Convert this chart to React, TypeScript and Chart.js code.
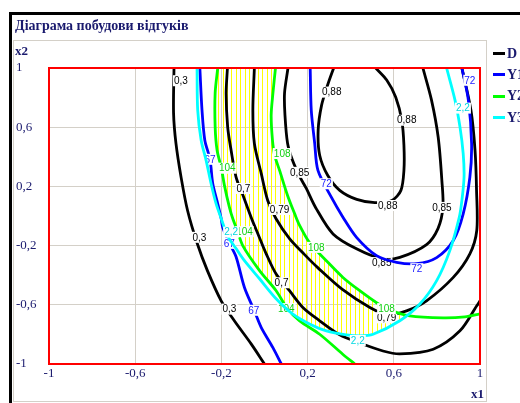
import React, { useEffect, useRef } from "react";
import { Chart, registerables } from "chart.js";

Chart.register(...registerables);

type Pt = [number, number];
type Lbl = [number, number, number];

const TITLE = "Діаграма побудови відгуків";
const X_AXIS_NAME = "x1";
const Y_AXIS_NAME = "x2";
const SERIES_NAMES = ["D", "Y1", "Y2", "Y3"];
const SERIES_COLORS = ["#000000", "#0000ff", "#00ff00", "#00ffff"];
const LABEL_COLORS = ["#000000", "#2020ff", "#10d010", "#00d8e0"];
const AXIS_MIN = -1;
const AXIS_MAX = 1;
const AXIS_STEP = 0.4;

// ---- D contours (x1, x2) ----
const D_030: Pt[] = [[-0.42, 1.0], [-0.422, 0.695], [-0.411, 0.492], [-0.387, 0.261], [-0.357, 0.037], [-0.312, -0.186], [-0.265, -0.369], [-0.201, -0.573], [-0.14, -0.708], [-0.062, -0.864], [0.0, -1.0]];
const D_070: Pt[] = [[-0.172, 1.0], [-0.178, 0.828], [-0.171, 0.602], [-0.155, 0.444], [-0.132, 0.263], [-0.1, 0.14], [-0.06, -0.017], [-0.028, -0.13], [0.008, -0.256], [0.054, -0.392], [0.116, -0.505], [0.178, -0.618], [0.256, -0.708], [0.349, -0.803], [0.442, -0.858], [0.55, -0.912], [0.628, -0.932], [0.783, -0.9], [0.907, -0.776], [0.985, -0.607], [1.0, -0.573]];
const D_079: Pt[] = [[-0.047, 1.0], [-0.054, 0.715], [-0.047, 0.49], [-0.015, 0.286], [0.015, 0.105], [0.053, -0.017], [0.116, -0.153], [0.186, -0.261], [0.247, -0.349], [0.363, -0.498], [0.489, -0.618], [0.572, -0.668], [0.659, -0.641], [0.752, -0.573], [0.876, -0.415], [0.953, -0.256], [0.985, -0.098], [0.984, 0.173], [0.977, 0.444], [0.958, 0.715], [0.916, 1.0]];
const D_085: Pt[] = [[0.109, 1.0], [0.093, 0.831], [0.095, 0.681], [0.107, 0.492], [0.13, 0.376], [0.163, 0.268], [0.194, 0.186], [0.237, 0.058], [0.318, -0.121], [0.427, -0.222], [0.543, -0.288], [0.628, -0.279], [0.752, -0.193], [0.805, -0.085], [0.828, 0.058], [0.823, 0.241], [0.806, 0.532], [0.775, 0.783], [0.735, 1.0]];
const D_088: Pt[] = [[0.321, 1.0], [0.293, 0.885], [0.265, 0.749], [0.249, 0.58], [0.256, 0.41], [0.293, 0.275], [0.349, 0.173], [0.428, 0.112], [0.512, 0.09], [0.591, 0.105], [0.633, 0.173], [0.647, 0.308], [0.647, 0.478], [0.637, 0.647], [0.609, 0.803], [0.567, 0.919], [0.516, 1.0]];

// ---- Y1 contours ----
const Y1_67: Pt[] = [[-0.3, 1.0], [-0.29, 0.715], [-0.277, 0.512], [-0.253, 0.383], [-0.24, 0.218], [-0.217, 0.083], [-0.201, -0.017], [-0.194, -0.076], [-0.163, -0.183], [-0.132, -0.275], [-0.093, -0.483], [-0.047, -0.641], [-0.015, -0.754], [0.039, -0.889], [0.078, -1.0]];
const Y1_72: Pt[] = [[0.212, 1.0], [0.217, 0.715], [0.233, 0.49], [0.248, 0.308], [0.31, 0.127], [0.364, -0.008], [0.427, -0.144], [0.52, -0.268], [0.613, -0.313], [0.706, -0.322], [0.799, -0.281], [0.876, -0.166], [0.922, 0.015], [0.953, 0.263], [0.961, 0.49], [0.946, 0.783], [0.916, 1.0]];

// ---- Y2 contours ----
const Y2_104: Pt[] = [[-0.217, 1.0], [-0.229, 0.831], [-0.229, 0.602], [-0.22, 0.444], [-0.2, 0.322], [-0.186, 0.207], [-0.163, 0.06], [-0.147, -0.019], [-0.126, -0.098], [-0.101, -0.2], [-0.023, -0.369], [0.054, -0.505], [0.107, -0.627], [0.163, -0.708], [0.256, -0.799], [0.363, -0.934], [0.419, -1.0]];
const Y2_108: Pt[] = [[0.051, 1.0], [0.039, 0.828], [0.031, 0.681], [0.037, 0.512], [0.047, 0.41], [0.07, 0.308], [0.107, 0.139], [0.14, 0.015], [0.163, -0.064], [0.209, -0.18], [0.287, -0.302], [0.364, -0.415], [0.442, -0.505], [0.52, -0.586], [0.581, -0.634], [0.674, -0.675], [0.829, -0.688], [0.93, -0.681], [1.0, -0.661]];

// ---- Y3 contour ----
const Y3_22: Pt[] = [[-0.313, 1.0], [-0.31, 0.715], [-0.294, 0.512], [-0.271, 0.376], [-0.248, 0.22], [-0.225, 0.085], [-0.201, -0.017], [-0.172, -0.132], [-0.132, -0.22], [-0.093, -0.302], [-0.023, -0.424], [0.054, -0.559], [0.13, -0.661], [0.209, -0.729], [0.287, -0.776], [0.38, -0.803], [0.442, -0.81], [0.504, -0.799], [0.628, -0.708], [0.721, -0.595], [0.799, -0.437], [0.86, -0.234], [0.904, -0.008], [0.916, 0.105], [0.926, 0.263], [0.922, 0.422], [0.907, 0.602], [0.884, 0.783], [0.845, 1.0]];

// ---- contour labels: x1, x2, level ----
const D_LABELS: Lbl[] = [[-0.388, 0.914, 0.3], [-0.302, -0.144, 0.3], [-0.163, -0.629, 0.3], [-0.098, 0.186, 0.7], [0.079, -0.451, 0.7], [0.07, 0.044, 0.79], [0.567, -0.688, 0.79], [0.163, 0.295, 0.85], [0.544, -0.315, 0.85], [0.823, 0.058, 0.85], [0.312, 0.837, 0.88], [0.66, 0.647, 0.88], [0.572, 0.071, 0.88]];
const Y1_LABELS: Lbl[] = [[-0.253, 0.383, 67], [-0.163, -0.185, 67], [-0.05, -0.637, 67], [0.287, 0.218, 72], [0.707, -0.356, 72], [0.953, 0.917, 72]];
const Y2_LABELS: Lbl[] = [[-0.173, 0.323, 104], [-0.093, -0.106, 104], [0.101, -0.626, 104], [0.082, 0.422, 108], [0.24, -0.212, 108], [0.566, -0.626, 108]];
const Y3_LABELS: Lbl[] = [[-0.155, -0.109, 2.2], [0.433, -0.841, 2.2], [0.921, 0.729, 2.2]];

const CONTOURS: { series: number; pts: Pt[] }[] = [
  { series: 0, pts: D_030 },
  { series: 0, pts: D_070 },
  { series: 0, pts: D_079 },
  { series: 0, pts: D_085 },
  { series: 0, pts: D_088 },
  { series: 1, pts: Y1_67 },
  { series: 1, pts: Y1_72 },
  { series: 2, pts: Y2_104 },
  { series: 2, pts: Y2_108 },
  { series: 3, pts: Y3_22 },
];
const SERIES_LABELS: Lbl[][] = [D_LABELS, Y1_LABELS, Y2_LABELS, Y3_LABELS];

const NAVY = "#1a1a6e";
const SERIF = "'Liberation Serif', 'Times New Roman', serif";
const fmt = (v: number) => String(Math.round(v * 100) / 100).replace(".", ",");

export default function App() {
  const ref = useRef<HTMLCanvasElement | null>(null);

  useEffect(() => {
    const canvas = ref.current;
    if (!canvas) return;
    const n = CONTOURS.length;
    const lastOfSeries: Record<number, number> = {};
    CONTOURS.forEach((c, i) => (lastOfSeries[c.series] = i));

    const datasets: any[] = CONTOURS.map((c, i) => ({
      label: SERIES_NAMES[c.series],
      data: c.pts.map(([x, y]) => ({ x, y })),
      showLine: true,
      borderColor: SERIES_COLORS[c.series],
      backgroundColor: SERIES_COLORS[c.series],
      borderWidth: 2.8,
      pointRadius: 0,
      tension: 0.3,
      fill: false,
      order: n - i,
      contourLabels: lastOfSeries[c.series] === i ? SERIES_LABELS[c.series] : [],
      labelColor: LABEL_COLORS[c.series],
    }));

    const polyPath = (ctx: CanvasRenderingContext2D, chart: any, pts: Pt[]) => {
      const xs = chart.scales.x, ys = chart.scales.y;
      ctx.beginPath();
      pts.forEach(([a, b], i) => {
        const X = xs.getPixelForValue(a), Y = ys.getPixelForValue(b);
        if (i) ctx.lineTo(X, Y); else ctx.moveTo(X, Y);
      });
      ctx.closePath();
    };

    const hatchPlugin = {
      id: "hatch",
      beforeDatasetsDraw(chart: any) {
        const { ctx, chartArea: a } = chart;
        ctx.save();
        ctx.beginPath();
        ctx.rect(a.left, a.top, a.right - a.left, a.bottom - a.top);
        ctx.clip();
        const g1 = Y2_104, g2 = Y2_108, c = Y3_22;
        polyPath(ctx, chart, [[g1[0][0], 1.3], ...g1, [g1[g1.length - 1][0], -1.3], [1.3, -1.3], [1.3, 1.3]]);
        ctx.clip();
        polyPath(ctx, chart, [[c[0][0], 1.3], ...c, [c[c.length - 1][0], 1.3]]);
        ctx.clip();
        polyPath(ctx, chart, [[g2[0][0], 1.3], ...g2, [1.3, g2[g2.length - 1][1]], [1.3, -1.3], [-1.3, -1.3], [-1.3, 1.3]]);
        ctx.clip();
        ctx.strokeStyle = "#ffff00";
        ctx.lineWidth = 1;
        ctx.beginPath();
        for (let k = 0; a.left + 2 + k * 4.4 < a.right; k++) {
          const X = Math.round(a.left + 2 + k * 4.4) + 0.5;
          ctx.moveTo(X, a.top);
          ctx.lineTo(X, a.bottom);
        }
        ctx.stroke();
        ctx.restore();
      },
    };

    const labelPlugin = {
      id: "contourLabels",
      afterDatasetDraw(chart: any, args: any) {
        const ds = chart.data.datasets[args.index];
        const labels: Lbl[] = ds.contourLabels || [];
        if (!labels.length) return;
        const { ctx } = chart;
        const xs = chart.scales.x, ys = chart.scales.y;
        ctx.save();
        ctx.font = "10px 'Liberation Sans', Arial, sans-serif";
        ctx.textAlign = "center";
        ctx.textBaseline = "middle";
        labels.forEach(([a, b, lv]) => {
          const X = xs.getPixelForValue(a), Y = ys.getPixelForValue(b);
          const t = fmt(lv);
          const w = ctx.measureText(t).width;
          ctx.fillStyle = "#ffffff";
          ctx.fillRect(X - w / 2 - 1, Y - 5.5, w + 2, 11);
          ctx.fillStyle = ds.labelColor;
          ctx.fillText(t, X, Y + 0.5);
        });
        ctx.restore();
      },
    };

    const framePlugin = {
      id: "frame",
      beforeDraw(chart: any) {
        const { ctx } = chart;
        ctx.save();
        ctx.fillStyle = "#ffffff";
        ctx.fillRect(0, 0, chart.width, chart.height);
        ctx.fillStyle = "#000000";
        ctx.fillRect(9, 12, 3, chart.height);
        ctx.fillRect(9, 12, chart.width, 3);
        ctx.strokeStyle = "#d4d0c8";
        ctx.lineWidth = 1;
        ctx.strokeRect(13.5, 40.5, 473, 361);
        ctx.fillStyle = NAVY;
        ctx.font = `bold 14px ${SERIF}`;
        ctx.textAlign = "left";
        ctx.textBaseline = "alphabetic";
        ctx.fillText(TITLE, 15, 30);
        ctx.font = `bold 13px ${SERIF}`;
        ctx.fillText(Y_AXIS_NAME, 15, 55);
        ctx.textAlign = "right";
        ctx.fillText(X_AXIS_NAME, 484, 398);
        ctx.textAlign = "left";
        ctx.textBaseline = "middle";
        ctx.font = `bold 14px ${SERIF}`;
        SERIES_NAMES.forEach((name, i) => {
          const y = 53 + i * 21.4;
          ctx.strokeStyle = SERIES_COLORS[i];
          ctx.lineWidth = 3;
          ctx.beginPath();
          ctx.moveTo(493, Math.round(y) + 0.5);
          ctx.lineTo(505, Math.round(y) + 0.5);
          ctx.stroke();
          ctx.fillStyle = NAVY;
          ctx.fillText(name, 507, y + 1);
        });
        ctx.restore();
      },
      afterDatasetsDraw(chart: any) {
        const { ctx, chartArea: a } = chart;
        ctx.save();
        ctx.strokeStyle = "#ff0000";
        ctx.lineWidth = 2;
        ctx.strokeRect(a.left, a.top, a.right - a.left, a.bottom - a.top);
        ctx.restore();
      },
    };

    const tickFont = { family: SERIF, size: 13 };
    const chart = new Chart(canvas, {
      type: "scatter",
      data: { datasets },
      options: {
        responsive: false,
        animation: false,
        events: [],
        layout: { padding: { left: 16, top: 68, right: 40, bottom: 0 } },
        plugins: { legend: { display: false }, tooltip: { enabled: false }, title: { display: false } },
        scales: {
          x: {
            type: "linear",
            min: AXIS_MIN,
            max: AXIS_MAX,
            ticks: { stepSize: AXIS_STEP, callback: (v: any) => fmt(Number(v)), color: NAVY, font: tickFont, padding: 2, maxRotation: 0, autoSkip: false },
            grid: { color: "#d4d0c8", drawTicks: false, lineWidth: 1 },
            border: { display: false },
            afterFit: (s: any) => { s.height = 39; },
          },
          y: {
            type: "linear",
            min: AXIS_MIN,
            max: AXIS_MAX,
            ticks: { stepSize: AXIS_STEP, callback: (v: any) => fmt(Number(v)), color: NAVY, font: tickFont, crossAlign: "far", autoSkip: false },
            grid: { color: "#d4d0c8", drawTicks: false, lineWidth: 1 },
            border: { display: false },
            afterFit: (s: any) => { s.width = 33; },
          },
        },
      } as any,
      plugins: [framePlugin, hatchPlugin, labelPlugin],
    });
    return () => chart.destroy();
  }, []);

  return (
    <div style={{ position: "fixed", left: 0, top: 0, width: 520, height: 403 }}>
      <canvas ref={ref} width={520} height={403} style={{ display: "block", width: 520, height: 403 }} />
    </div>
  );
}
